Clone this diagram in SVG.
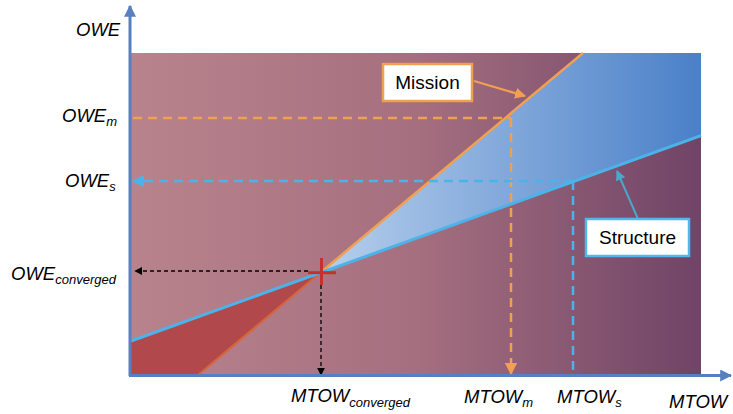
<svg xmlns="http://www.w3.org/2000/svg" width="733" height="414" viewBox="0 0 733 414">
<defs>
<linearGradient id="bg" gradientUnits="userSpaceOnUse" x1="131" y1="0" x2="701" y2="0">
<stop offset="0" stop-color="#b9838d"/>
<stop offset="0.5" stop-color="#a56f7f"/>
<stop offset="1" stop-color="#704467"/>
</linearGradient>
<linearGradient id="bl" gradientUnits="userSpaceOnUse" x1="320" y1="0" x2="701" y2="0">
<stop offset="0" stop-color="#b7cfec"/>
<stop offset="1" stop-color="#4a80c8"/>
</linearGradient>
<marker id="ao" viewBox="0 0 10 10" refX="9" refY="5" markerWidth="5" markerHeight="5" orient="auto" markerUnits="strokeWidth"><path d="M0,0 L10,5 L0,10 z" fill="#f0a050"/></marker>
<marker id="ab" viewBox="0 0 10 10" refX="9" refY="5" markerWidth="5" markerHeight="5" orient="auto" markerUnits="strokeWidth"><path d="M0,0 L10,5 L0,10 z" fill="#4ab4ea"/></marker>
<marker id="at" viewBox="0 0 10 10" refX="9" refY="5" markerWidth="5" markerHeight="5" orient="auto" markerUnits="strokeWidth"><path d="M0,0 L10,5 L0,10 z" fill="#4aa8c8"/></marker>
<marker id="ak" viewBox="0 0 10 10" refX="9" refY="5" markerWidth="6" markerHeight="6" orient="auto" markerUnits="strokeWidth"><path d="M0,0 L10,5 L0,10 z" fill="#000"/></marker>
<marker id="ax" viewBox="0 0 10 10" refX="9" refY="5" markerWidth="4" markerHeight="4" orient="auto" markerUnits="strokeWidth"><path d="M0,0 L10,5 L0,10 z" fill="#5880c0"/></marker>
</defs>
<style>
.lab{font-family:"Liberation Sans",Arial,sans-serif;font-style:italic;font-size:18.5px;fill:#000}
.sub{font-size:13px}
.box{font-family:"Liberation Sans",Arial,sans-serif;font-size:19px;fill:#000;text-anchor:middle}
.dash{fill:none;stroke-width:2.5;stroke-dasharray:9,6}
.dot{fill:none;stroke:#000;stroke-width:1.3;stroke-dasharray:4,3}
</style>
<g id="background">
<rect x="131" y="53" width="570" height="322" fill="url(#bg)"/>
<polygon points="320,273 583,53 701,53 701,135.7" fill="url(#bl)"/>
<polygon points="320,273 131,341 131,375 198,375" fill="#b0484c"/>
</g>
<g id="connectors">
<line x1="320" y1="273" x2="198" y2="375" stroke="#d8643a" stroke-width="2.2"/>
<line x1="320" y1="273" x2="583" y2="53" stroke="#f0a050" stroke-width="2.5"/>
<line x1="131" y1="341" x2="701" y2="135.7" stroke="#4ab4ea" stroke-width="3"/>
<line class="dash" x1="133" y1="118" x2="511" y2="118" stroke="#f0a050"/>
<line class="dash" x1="511" y1="118" x2="511" y2="374" stroke="#f0a050" marker-end="url(#ao)"/>
<line class="dash" x1="573" y1="181" x2="133" y2="181" stroke="#4ab4ea" marker-end="url(#ab)"/>
<line class="dash" x1="573" y1="181" x2="573" y2="375" stroke="#4ab4ea"/>
<line class="dot" x1="308" y1="271" x2="135" y2="271" marker-end="url(#ak)"/>
<line class="dot" x1="321" y1="285" x2="321" y2="375" marker-end="url(#ak)"/>
<line x1="474" y1="81" x2="525" y2="96" stroke="#f0a050" stroke-width="2.2" marker-end="url(#ao)"/>
<line x1="638" y1="219" x2="617" y2="171" stroke="#4aa8c8" stroke-width="2" marker-end="url(#at)"/>
</g>
<g id="axes">
<line x1="130" y1="376" x2="130" y2="6" stroke="#5880c0" stroke-width="3" marker-end="url(#ax)"/>
<line x1="129" y1="375.5" x2="731" y2="375.5" stroke="#5880c0" stroke-width="3" marker-end="url(#ax)"/>
</g>
<g id="converged-point">
<line x1="308" y1="272.7" x2="336" y2="272.7" stroke="#c0342c" stroke-width="3"/>
<line x1="321.5" y1="258" x2="321.5" y2="285" stroke="#c0342c" stroke-width="3"/>
</g>
<g id="mission">
<rect x="383" y="64" width="89" height="37" fill="#fff" stroke="#f0a050" stroke-width="2.5"/>
<text class="box" x="427.5" y="89">Mission</text>
</g>
<g id="structure">
<rect x="586" y="219" width="103" height="37" fill="#fff" stroke="#50b8ee" stroke-width="2.5"/>
<text class="box" x="637.5" y="244">Structure</text>
</g>
<g id="labels">
<text class="lab" x="76" y="36">OWE</text>
<text class="lab" x="62" y="122">OWE<tspan class="sub" dy="4">m</tspan></text>
<text class="lab" x="65" y="187">OWE<tspan class="sub" dy="4">s</tspan></text>
<text class="lab" x="11" y="280">OWE<tspan class="sub" dy="4">converged</tspan></text>
<text class="lab" x="291" y="402">MTOW<tspan class="sub" dy="5">converged</tspan></text>
<text class="lab" x="464" y="403">MTOW<tspan class="sub" dy="4">m</tspan></text>
<text class="lab" x="557" y="403">MTOW<tspan class="sub" dy="4">s</tspan></text>
<text class="lab" x="669" y="408">MTOW</text>
</g>
</svg>
